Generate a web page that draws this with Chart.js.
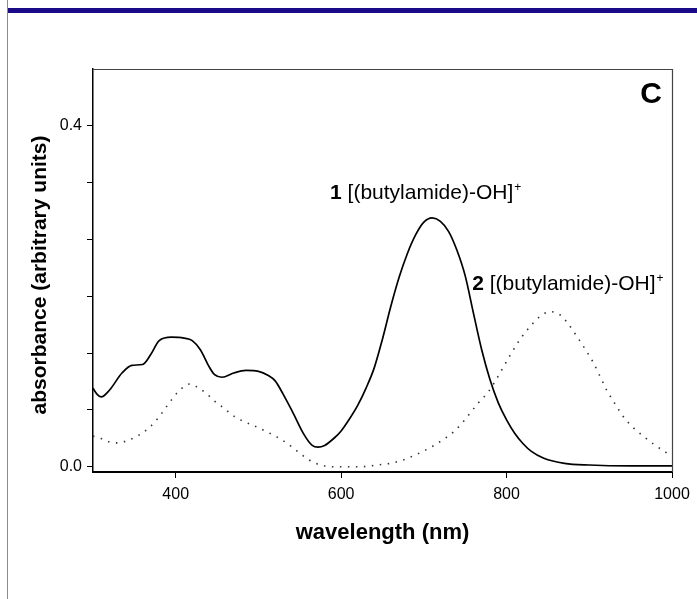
<!DOCTYPE html>
<html>
<head>
<meta charset="utf-8">
<script src="https://cdn.jsdelivr.net/npm/chart.js@4.4.1/dist/chart.umd.min.js"></script>
<style>
  html, body { margin: 0; padding: 0; background: #ffffff; }
  #wrap { position: relative; width: 697px; height: 599px; overflow: hidden; }
  #c { position: absolute; left: 0; top: 0; }
  #topbar { position: absolute; left: 8px; top: 8px; width: 689px; height: 5px; background: #1a0a88; }
  #leftline { position: absolute; left: 7px; top: 0; width: 1px; height: 599px; background: #8b80c4; }
</style>
</head>
<body>
<div id="wrap">
  <canvas id="c" width="697" height="599"></canvas>
  <div id="leftline"></div>
  <div id="topbar"></div>
</div>
<script>
// ---- data ----
const wavelength1 = [300,305,310,320,335,347,360,370,380,395,410,420,430,440,447,456,470,485,500,512,520,530,542,555,565,572,580,592,600,610,620,630,640,650,660,670,680,690,700,710,720,730,740,750,760,770,780,790,800,810,820,830,845,870,900,950,1000];
const absorbance1 = [0.092,0.085,0.082,0.090,0.110,0.119,0.120,0.132,0.148,0.152,0.151,0.148,0.137,0.118,0.108,0.105,0.110,0.113,0.112,0.107,0.101,0.085,0.063,0.038,0.025,0.023,0.025,0.034,0.042,0.056,0.072,0.092,0.116,0.150,0.188,0.222,0.250,0.272,0.287,0.292,0.288,0.276,0.254,0.224,0.180,0.137,0.102,0.075,0.055,0.039,0.027,0.018,0.010,0.004,0.002,0.001,0.001];

const wavelength2 = [300,310,320,330,345,357,367,377,390,401,410,417,425,437,447,458,468,478,495,510,522,534,546,558,567,575,590,607,625,643,660,675,690,707,722,736,746,756,766,778,786,795,805,816,828,840,853,865,875,885,895,905,913,921,931,941,953,965,980,994,1000];
const absorbance2 = [0.036,0.033,0.029,0.028,0.032,0.038,0.045,0.055,0.072,0.086,0.094,0.097,0.094,0.086,0.077,0.069,0.061,0.055,0.048,0.041,0.035,0.028,0.019,0.010,0.005,0.002,0.000,0.000,0.000,0.002,0.004,0.008,0.014,0.022,0.031,0.041,0.051,0.063,0.075,0.088,0.100,0.115,0.132,0.149,0.164,0.176,0.182,0.178,0.167,0.153,0.138,0.122,0.106,0.090,0.074,0.059,0.046,0.036,0.025,0.016,0.013];

const xTickValues = [400, 600, 800, 1000];
const xTickLabels = ['400', '600', '800', '1000'];
const yTickValues = [0, 0.4/6, 0.8/6, 0.2, 1.6/6, 2.0/6, 0.4];
const yTickLabels = ['0.0', '', '', '', '', '', '0.4'];

const xMin = 300, xMax = 1000;
const yMin = -0.0062, yMax = 0.4668;

const FONT = '"Liberation Sans", Arial, Helvetica, sans-serif';

const series1 = wavelength1.map((w, i) => ({x: w, y: absorbance1[i]}));
const series2 = wavelength2.map((w, i) => ({x: w, y: absorbance2[i]}));

const decorPlugin = {
  id: 'decor',
  afterDraw(chart) {
    const {ctx, chartArea: a, scales: {x, y}} = chart;
    ctx.save();
    // frame top and right
    ctx.strokeStyle = '#444';
    ctx.lineWidth = 1.2;
    ctx.beginPath();
    ctx.moveTo(a.left, a.top + 0.5);
    ctx.lineTo(a.right + 0.5, a.top + 0.5);
    ctx.lineTo(a.right + 0.5, a.bottom);
    ctx.stroke();

    ctx.fillStyle = '#000';
    // panel letter
    ctx.font = 'bold 30px ' + FONT;
    ctx.textAlign = 'center';
    ctx.textBaseline = 'alphabetic';
    ctx.fillText('C', 651, 103);

    // axis titles
    ctx.font = 'bold 22px ' + FONT;
    ctx.textBaseline = 'middle';
    ctx.fillText('wavelength (nm)', (a.left + a.right) / 2, 533);
    ctx.save();
    ctx.font = 'bold 21px ' + FONT;
    ctx.translate(40, 275);
    ctx.rotate(-Math.PI / 2);
    ctx.fillText('absorbance (arbitrary units)', 0, 0);
    ctx.restore();

    // curve labels
    function label(num, xv, yv) {
      let px = x.getPixelForValue(xv);
      const py = y.getPixelForValue(yv);
      ctx.textAlign = 'left';
      ctx.textBaseline = 'alphabetic';
      ctx.font = 'bold 21px ' + FONT;
      ctx.fillText(num, px, py);
      px += ctx.measureText(num + ' ').width;
      ctx.font = '21px ' + FONT;
      const body = '[(butylamide)-OH]';
      ctx.fillText(body, px, py);
      px += ctx.measureText(body).width + 1;
      ctx.font = '12px ' + FONT;
      ctx.fillText('+', px, py - 8);
    }
    label('1', 586.6, 0.3144);
    label('2', 758.5, 0.2077);
    ctx.restore();
  }
};

new Chart(document.getElementById('c'), {
  type: 'line',
  data: {
    datasets: [
      {
        label: '1 [(butylamide)-OH]+',
        data: series1,
        borderColor: '#000',
        borderWidth: 1.7,
        pointRadius: 0,
        cubicInterpolationMode: 'monotone',
        fill: false
      },
      {
        label: '2 [(butylamide)-OH]+',
        data: series2,
        borderColor: '#333',
        borderWidth: 1.6,
        borderDash: [1.5, 6.5],
        pointRadius: 0,
        cubicInterpolationMode: 'monotone',
        fill: false
      }
    ]
  },
  options: {
    responsive: false,
    animation: false,
    layout: { padding: { top: 69, right: 25, left: 0, bottom: 0 } },
    plugins: { legend: { display: false }, tooltip: { enabled: false } },
    scales: {
      x: {
        type: 'linear',
        min: xMin, max: xMax,
        afterFit(s) { s.height = 127; },
        afterBuildTicks(s) { s.ticks = xTickValues.map(v => ({value: v})); },
        grid: { drawOnChartArea: false, drawTicks: true, tickLength: 6, color: '#000', lineWidth: 1 },
        border: { display: true, color: '#000', width: 2 },
        ticks: {
          color: '#000', padding: 7, maxRotation: 0, autoSkip: false,
          font: { family: FONT, size: 16 },
          callback: (v) => { const i = xTickValues.indexOf(v); return i >= 0 ? xTickLabels[i] : ''; }
        }
      },
      y: {
        type: 'linear',
        min: yMin, max: yMax,
        afterFit(s) { s.width = 93; },
        afterBuildTicks(s) { s.ticks = yTickValues.map(v => ({value: v})); },
        grid: { drawOnChartArea: false, drawTicks: true, tickLength: 6, color: '#000', lineWidth: 1 },
        border: { display: true, color: '#000', width: 1.5 },
        ticks: {
          color: '#000', padding: 5, autoSkip: false,
          font: { family: FONT, size: 16 },
          callback: (v) => {
            const i = yTickValues.findIndex(t => Math.abs(t - v) < 1e-9);
            return i >= 0 ? yTickLabels[i] : '';
          }
        }
      }
    }
  },
  plugins: [decorPlugin]
});
</script>
</body>
</html>
